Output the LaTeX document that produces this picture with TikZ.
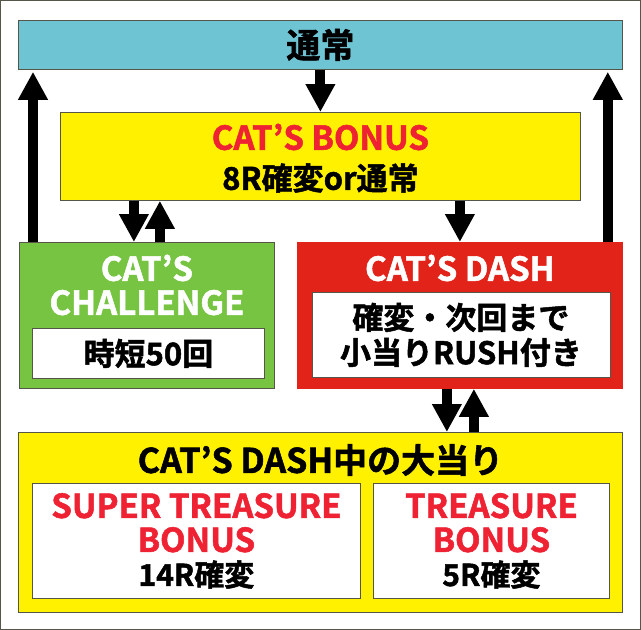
\documentclass[tikz,border=0pt]{standalone}
\usepackage{fontspec}
\setmainfont{Noto Sans CJK JP}[BoldFont={Noto Sans CJK JP Bold}, BoldFeatures={FakeBold=1.6}]
\usetikzlibrary{positioning}
\usetikzlibrary{arrows.meta}
\definecolor{boxcyan}{HTML}{6EC4D3}
\definecolor{boxyellow}{HTML}{FFF100}
\definecolor{boxgreen}{HTML}{76C442}
\definecolor{boxred}{HTML}{E2231A}
\definecolor{txtred}{HTML}{EE2233}
\definecolor{edgegray}{HTML}{55554A}
\newcommand{\redtxt}[1]{\textcolor{txtred}{#1}}
\tikzset{
    mynodec/.style = {rectangle, draw=edgegray, line width=0.8pt, fill=boxcyan, anchor=north west, inner sep=0pt},
    mynodey/.style = {rectangle, draw=edgegray, line width=0.8pt, fill=boxyellow, anchor=north west, inner sep=0pt},
    mynodeg/.style = {rectangle, draw=edgegray, line width=0.8pt, fill=boxgreen, anchor=north west, inner sep=0pt},
    mynoder/.style = {rectangle, draw=boxred, line width=0.8pt, fill=boxred, anchor=north west, inner sep=0pt},
    mynodew/.style = {rectangle, draw=edgegray, line width=0.8pt, fill=white, inner sep=0pt, align=center},
    titlefont/.style = {font=\fontsize{33}{34}\selectfont\bfseries, align=center},
    subfont/.style = {font=\fontsize{31}{35}\selectfont\bfseries, align=center},
    textb/.style = {text=black},
    textr/.style = {text=txtred},
    textw/.style = {text=white},
    edgen/.style = {-{Triangle[length=28pt,width=28pt]}, line width=10pt, black}, % block arrow
}
\begin{document}
\begin{tikzpicture}[x=1pt, y=-1pt, font=\bfseries]
  \useasboundingbox (0,0) rectangle (641,630);
  \draw[edgegray, line width=1pt] (0.5,0.5) rectangle (640.5,629.5);

  % boxes
  \node[mynodec, minimum width=604pt, minimum height=49pt, font=\fontsize{34}{34}\selectfont\bfseries] (normal) at (18,20) {通常};
  \node[mynodey, minimum width=520pt, minimum height=88pt] (bonus) at (60,112) {};
  \node[titlefont, textr] (bonust) at ([yshift=-25pt]bonus.north) {CAT'S BONUS};
  \node[subfont, textb] (bonuss) at ([yshift=-66pt]bonus.north) {8R確変or通常};

  \node[mynodeg, minimum width=255pt, minimum height=146pt] (chal) at (19,242) {};
  \node[titlefont, textw] (chalt) at ([yshift=-43pt]chal.north) {CAT'S\\CHALLENGE};
  \node[mynodew, subfont, minimum width=232pt, minimum height=50pt, anchor=south] (chalw) at ([xshift=1.5pt,yshift=10pt]chal.south) {時短50回};

  \node[mynoder, minimum width=325pt, minimum height=146pt] (dash) at (297,242) {};
  \node[titlefont, textw] (dasht) at ([yshift=-26pt]dash.north) {CAT'S DASH};
  \node[mynodew, subfont, minimum width=298pt, minimum height=85pt, anchor=south] (dashw) at ([xshift=1pt,yshift=11pt]dash.south) {確変・次回まで\\小当りRUSH付き};

  \node[mynodey, minimum width=604pt, minimum height=180pt] (hit) at (18,432) {};
  \node[titlefont, textb, font=\fontsize{34}{34}\selectfont\bfseries] (hitt) at ([yshift=-28pt]hit.north) {CAT'S DASH中の大当り};
  \node[mynodew, titlefont, minimum width=328pt, minimum height=115pt, anchor=north west] (super) at (32,483)
    {\redtxt{SUPER TREASURE}\\\redtxt{BONUS}\\{\fontsize{30}{30}\selectfont 14R確変}};
  \node[mynodew, titlefont, minimum width=236pt, minimum height=115pt, anchor=north west] (treasure) at (373,483)
    {\redtxt{TREASURE}\\\redtxt{BONUS}\\{\fontsize{30}{30}\selectfont 5R確変}};

  % arrows
  \coordinate (lup) at ([xshift=14pt]chal.north west);
  \coordinate (rup) at ([xshift=-15pt]dash.north east);
  \coordinate (cdn) at ([xshift=-13pt]chal.north);
  \coordinate (cup) at ([xshift=13pt]chal.north);
  \coordinate (ddn) at ([xshift=-13pt]dash.south);
  \coordinate (dup) at ([xshift=14pt]dash.south);
  \draw[edgen] (normal.south) -- (bonus.north);
  \draw[edgen, shorten >=2pt] (lup) -- (lup |- normal.south);
  \draw[edgen, shorten >=2pt] (rup) -- (rup |- normal.south);
  \draw[edgen] (cdn |- bonus.south) -- (cdn);
  \draw[edgen] (cup) -- (cup |- bonus.south);
  \draw[edgen] (dash.north |- bonus.south) -- (dash.north);
  \draw[edgen] (ddn) -- (ddn |- hit.north);
  \draw[edgen] (dup |- hit.north) -- (dup);
\end{tikzpicture}
\end{document}
